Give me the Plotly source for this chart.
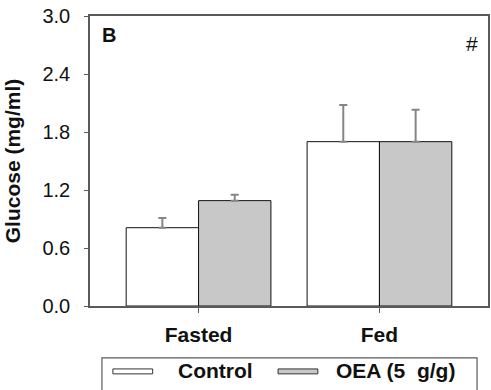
import plotly.graph_objects as go

# Blood glucose by feeding state and treatment
conditions = ["Fasted", "Fed"]
series_names = ["Control", "OEA (5\u00a0\u00a0g/g)"]
control_mean = [0.81, 1.70]
control_sem = [0.10, 0.38]
oea_mean = [1.09, 1.70]
oea_sem = [0.06, 0.33]
y_ticks = [0.0, 0.6, 1.2, 1.8, 2.4, 3.0]

font_family = "Liberation Sans, Arial, sans-serif"
axis_gray = "#5a5a5a"
err_gray = "#858585"
fills = ["#ffffff", "#c8c8c8"]

fig = go.Figure()
for name, means, sems, fill in [
    (series_names[0], control_mean, control_sem, fills[0]),
    (series_names[1], oea_mean, oea_sem, fills[1]),
]:
    fig.add_trace(go.Bar(
        x=conditions, y=means, name=name,
        marker=dict(color=fill, line=dict(color="#111111", width=1)),
        error_y=dict(type="data", symmetric=False, array=sems,
                     arrayminus=[0] * len(sems), color=err_gray,
                     thickness=2, width=4),
        showlegend=False,
    ))

fig.update_layout(
    width=491, height=390,
    margin=dict(l=90, r=1, t=16, b=84),
    paper_bgcolor="white", plot_bgcolor="white",
    barmode="group", bargap=0.2, bargroupgap=0,
    font=dict(family=font_family, size=20, color="#111111"),
)
fig.update_xaxes(
    range=[-0.6, 1.6], showline=True, mirror=True, linecolor=axis_gray,
    linewidth=1.5, ticks="outside", ticklen=5, tickcolor=axis_gray,
    ticklabelstandoff=4,
    tickfont=dict(size=21, family=font_family, weight="bold"),
    showgrid=False, zeroline=False,
)
fig.update_yaxes(
    range=[0, 3.0], tickvals=y_ticks, tickformat=".1f",
    showline=True, mirror=True, linecolor=axis_gray, linewidth=1.5,
    ticks="outside", ticklen=4, tickcolor=axis_gray,
    ticklabelstandoff=10,
    tickfont=dict(size=20, family=font_family),
    title=dict(text="Glucose (mg/ml)", standoff=16,
               font=dict(size=21, family=font_family, weight="bold")),
    showgrid=False, zeroline=False,
)

# Panel letter and significance mark
fig.add_annotation(x=0.025, y=0.933, xref="paper", yref="paper", text="<b>B</b>",
                   showarrow=False, xanchor="left", yanchor="middle",
                   font=dict(size=20, family=font_family))
fig.add_annotation(x=0.961, y=0.905, xref="paper", yref="paper", text="#",
                   showarrow=False, xanchor="center", yanchor="middle",
                   font=dict(size=21, family=font_family))

# Legend box with wide flat swatches
fig.add_shape(type="rect", xref="paper", yref="paper",
              x0=0.03, x1=0.9725, y0=-0.32, y1=-0.179,
              line=dict(color=axis_gray, width=1.2), fillcolor="rgba(0,0,0,0)")
swatch_x = [(0.0575, 0.1575), (0.4725, 0.5725)]
label_x = [0.215, 0.6125]
for (sx0, sx1), lx, name, fill in zip(swatch_x, label_x, series_names, fills):
    fig.add_shape(type="rect", xref="paper", yref="paper",
                  x0=sx0, x1=sx1, y0=-0.234, y1=-0.217,
                  line=dict(color="#333333", width=1), fillcolor=fill)
    fig.add_annotation(x=lx, y=-0.224, xref="paper", yref="paper",
                       text="<b>" + name + "</b>", showarrow=False,
                       xanchor="left", yanchor="middle",
                       font=dict(size=21, family=font_family))

fig.write_html("out.html")
